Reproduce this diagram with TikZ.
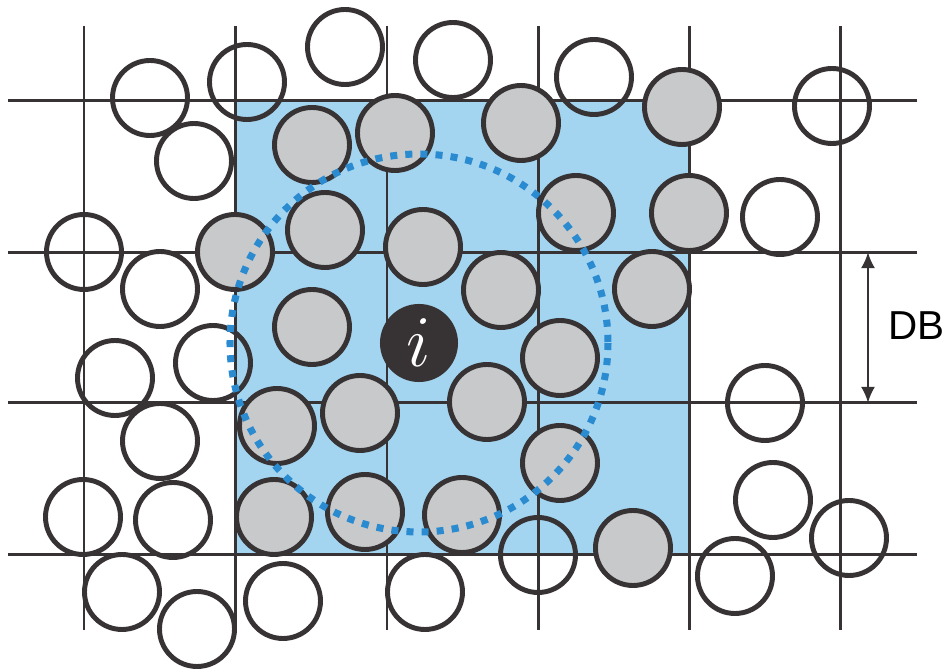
\documentclass[tikz,border=0pt]{standalone}
\usepackage{fontspec}
\setsansfont{Liberation Sans}
\usetikzlibrary{arrows.meta}
\definecolor{vien}{HTML}{373233}
\definecolor{xam}{HTML}{C8C9CB}
\definecolor{nenxanh}{HTML}{A3D5F1}
\definecolor{xanh}{HTML}{2A8BD0}

\begin{document}
\begin{tikzpicture}[x=0.01cm, y=-0.01cm, >={Latex[length=4.5pt,width=4pt]},
    hat/.style={draw=vien, line width=1.4pt},
    hatxam/.style={hat, fill=xam}]
    \useasboundingbox (0,0) rectangle (947,670);

    % 1. Vùng tô màu
    \fill[nenxanh] (235.5,100.7) rectangle (689.5,554.3);

    % 2. Vẽ lưới
    \foreach \x in {84,235.5,387,538.5,689.5,840.5}
        \draw[vien, line width=0.85pt] (\x,26) -- (\x,630);
    \foreach \y in {100.7,252.3,402.7,554.3}
        \draw[vien, line width=0.85pt] (8,\y) -- (917,\y);

    % 3. Các hạt trắng
    \foreach \x/\y in {150/98, 247/82, 345/47, 453/60, 594/77, 832/106,
        194/161, 780/217, 84/252, 160/289, 115/378, 213/363, 765/403,
        160/441, 83/517, 173/520, 773/500, 849/538, 538/555, 122/592,
        197/629, 283/601, 425/592, 735/576}
        \draw[hat] (\x,\y) circle[radius=37.5];

    % 4. Các hạt xám
    \foreach \x/\y in {312/145, 395/133, 521/123, 682/107, 576/213, 689/213,
        235/252, 325/230, 423/247, 501/290, 652/289, 312/327, 560/358,
        277/426, 360/413, 487/402, 560/463, 274/517, 365/512, 462/515,
        633/548}
        \draw[hatxam] (\x,\y) circle[radius=37.5];

    % 5. Hạt i
    \node[circle, fill=vien, minimum size=0.78cm, inner sep=0pt, text=white,
        font=\fontsize{21}{21}\selectfont] (i) at (419,343) {$i$};

    % 6. Đường tròn nét đứt
    \draw[xanh, line width=2pt, dash pattern=on 2pt off 2.3pt]
        (i.center) circle[radius=189];

    % 7. Khoảng cách DB
    \coordinate (dbtren) at (868,252.3);
    \coordinate (dbduoi) at (868,402.7);
    \draw[<->, vien, line width=0.6pt] (dbtren) -- (dbduoi);
    \node[anchor=west, inner sep=0pt, font=\sffamily\fontsize{11.5}{11.5}\selectfont]
        (db) at (888,326) {DB};
\end{tikzpicture}
\end{document}
